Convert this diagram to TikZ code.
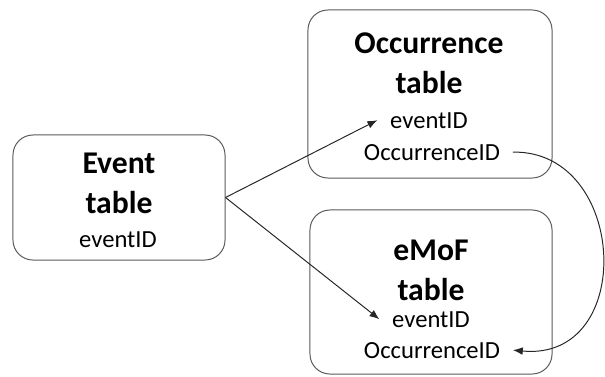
\documentclass[tikz,border=0pt]{standalone}
\usepackage{fontspec}
\setmainfont{Carlito}
\usetikzlibrary{arrows.meta}

\begin{document}
\begin{tikzpicture}[x=0.025cm,y=-0.025cm,
  tabelle/.style={draw=black!65,line width=0.7pt,rounded corners=0.5cm,inner sep=0pt},
  titel/.style={anchor=base,font=\fontsize{22.5}{26}\selectfont\bfseries,inner sep=0pt},
  feld/.style={anchor=base,font=\fontsize{17.5}{21}\selectfont,inner xsep=9pt,inner ysep=2pt},
  pfeil/.style={draw=black!85,line width=0.7pt,-{Latex[length=7pt,width=5.5pt]}}]
\useasboundingbox (0,0) rectangle (605,376);
%Tabellen als Kaesten, Texte einzeln darauf
\node[tabelle,minimum width=5.3cm,minimum height=3.125cm] (event) at (119,197.5) {};
\node[tabelle,minimum width=6.1cm,minimum height=4.2cm] (occ) at (430,94) {};
\node[tabelle,minimum width=6.05cm,minimum height=4.1cm] (emof) at (431,292) {};

\node[titel] (eventT) at (119,173) {Event};
\node[titel] (eventTab) at (119,213) {table};
\node[feld] (eventE) at (118,247) {eventID};

\node[titel] (occT) at (429,53) {Occurrence};
\node[titel] (occTab) at (429,93) {table};
\node[feld] (occE) at (429,128) {eventID};
\node[feld] (occO) at (432,160) {OccurrenceID};

\node[titel] (emofT) at (431,260) {eMoF};
\node[titel] (emofTab) at (431,300) {table};
\node[feld] (emofE) at (431,327) {eventID};
\node[feld] (emofO) at (432,358) {OccurrenceID};

%Verweise
\draw[pfeil] (event.east) -- (occE.west);
\draw[pfeil] (event.east) -- (emofE.west);
\draw[pfeil] (occO.east) .. controls +(115,-2) and +(124,12) .. (emofO.east);
\end{tikzpicture}
\end{document}
